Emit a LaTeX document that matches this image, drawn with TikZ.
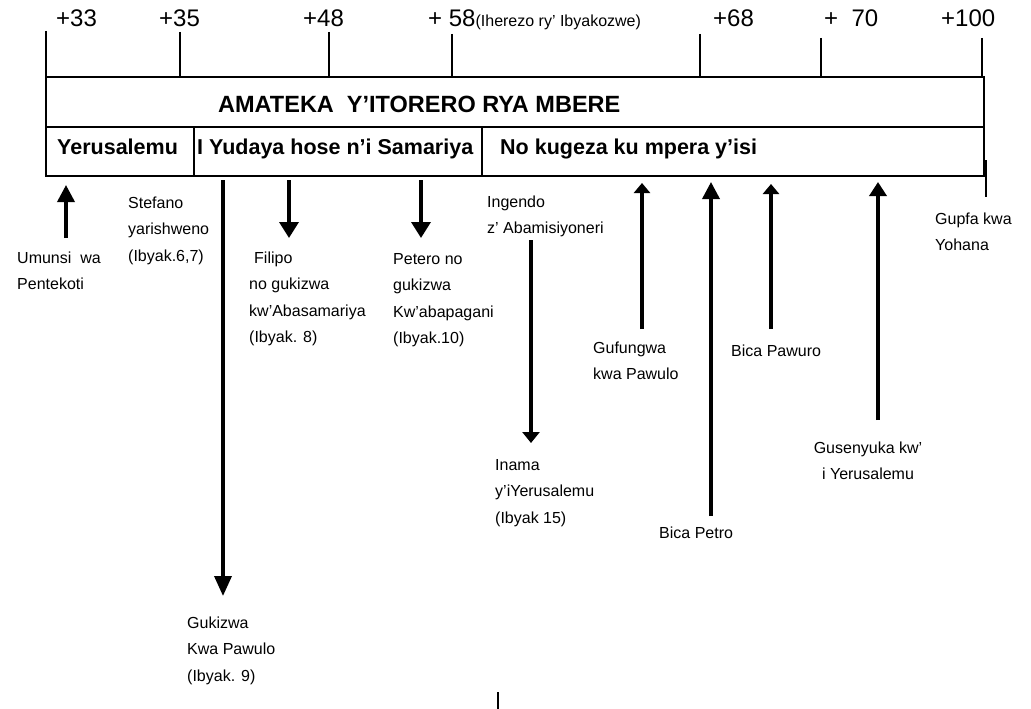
\documentclass[tikz,border=0pt]{standalone}
\usepackage{fontspec}
\setmainfont{Liberation Sans}
\usetikzlibrary{arrows.meta}
\begin{document}
\begin{tikzpicture}[x=1pt,y=-1pt,
  frame/.style={line width=1.8pt},
  tick/.style={line width=1.8pt},
  toplbl/.style={anchor=base west,inner sep=0pt,font=\fontsize{24}{28}\selectfont},
  ttl/.style={anchor=base west,inner sep=0pt,font=\bfseries\fontsize{23.5}{28}\selectfont},
  rowlbl/.style={anchor=base west,inner sep=0pt,font=\bfseries\fontsize{21.5}{26}\selectfont},
  txt/.style={anchor=base west,inner sep=0pt,font=\fontsize{16}{26.5}\selectfont},
  txtc/.style={anchor=base,inner sep=0pt,font=\fontsize{16}{26.5}\selectfont},
  bigup/.style={line width=3.5pt,-{Triangle[length=17pt,width=17pt]}},
  smallup/.style={line width=3.5pt,-{Triangle[length=10pt,width=16pt]}},
  down/.style={line width=3.5pt,-{Triangle[length=16pt,width=19pt]}},
  longdown/.style={line width=3.5pt,-{Triangle[length=20pt,width=17pt]}},
  shortdown/.style={line width=3.5pt,-{Triangle[length=11pt,width=17pt]}}]
\useasboundingbox (0,0) rectangle (1031,709);

% top labels
\node[toplbl] (t33) at (56,26.5) {+33};
\node[toplbl] (t35) at (159,26.5) {+35};
\node[toplbl] (t48) at (303,26.5) {+48};
\node[toplbl] (t58) at (428,26.5) {+ 58{\fontsize{16}{20}\selectfont(Iherezo ry’ Ibyakozwe)}};
\node[toplbl] (t68) at (713,26.5) {+68};
\node[toplbl] (t70) at (824,26.5) {+\ \ 70};
\node[toplbl] (t100) at (941,26.5) {+100};

% ticks
\draw[tick] (46,31) -- (46,77);
\draw[tick] (180,32) -- (180,77);
\draw[tick] (329,32) -- (329,77);
\draw[tick] (452,34) -- (452,77);
\draw[tick] (700,34) -- (700,77);
\draw[tick] (821,38) -- (821,77);
\draw[tick] (982,38) -- (982,77);

% frame
\draw[frame] (46,77) rectangle (984,176);
\draw[frame] (46,127) -- (984,127);
\draw[frame] (194,127) -- (194,176);
\draw[frame] (482,127) -- (482,176);
\draw[frame] (986,160) -- (986,197);

\node[ttl] (title) at (218,112) {AMATEKA\ \ Y’ITORERO RYA MBERE};
\node[rowlbl] (r1) at (57,154) {Yerusalemu};
\node[rowlbl] (r2) at (197,154) {I Yudaya hose n’i Samariya};
\node[rowlbl] (r3) at (500,154) {No kugeza ku mpera y’isi};

% labels
\node[txt] (umunsi) at (17,263) {\begin{tabular}[t]{@{}l@{}}Umunsi\ \ wa\\Pentekoti\end{tabular}};
\node[txt] (stefano) at (128,208) {\begin{tabular}[t]{@{}l@{}}Stefano\\yarishweno\\(Ibyak.6,7)\end{tabular}};
\node[txt] (filipo) at (249,263) {\begin{tabular}[t]{@{}l@{}}\hspace*{5pt}Filipo\\no gukizwa\\kw’Abasamariya\\(Ibyak. 8)\end{tabular}};
\node[txt] (petero) at (393,264) {\begin{tabular}[t]{@{}l@{}}Petero no\\gukizwa\\Kw’abapagani\\(Ibyak.10)\end{tabular}};
\node[txt] (ingendo) at (487,207) {\begin{tabular}[t]{@{}l@{}}Ingendo\\z’ Abamisiyoneri\end{tabular}};
\node[txt] (inama) at (495,470) {\begin{tabular}[t]{@{}l@{}}Inama\\y’iYerusalemu\\(Ibyak 15)\end{tabular}};
\node[txt] (gukizwa) at (187,628) {\begin{tabular}[t]{@{}l@{}}Gukizwa\\Kwa Pawulo\\(Ibyak. 9)\end{tabular}};
\node[txt] (gufungwa) at (593,353) {\begin{tabular}[t]{@{}l@{}}Gufungwa\\kwa Pawulo\end{tabular}};
\node[txt] (pawuro) at (731,356) {Bica Pawuro};
\node[txt] (petro) at (659,538) {Bica Petro};
\node[txtc] (gusenyuka) at (868,453) {\begin{tabular}[t]{@{}c@{}}Gusenyuka kw’\\i Yerusalemu\end{tabular}};
\node[txt] (gupfa) at (935,224) {\begin{tabular}[t]{@{}l@{}}Gupfa kwa\\Yohana\end{tabular}};

% arrow end points
\coordinate (a1s) at (66,238);  \coordinate (a1e) at (66,185);
\coordinate (a2s) at (223,180); \coordinate (a2e) at (223,596);
\coordinate (a3s) at (289,180); \coordinate (a3e) at (289,238);
\coordinate (a4s) at (421,180); \coordinate (a4e) at (421,238);
\coordinate (a5s) at (531,240); \coordinate (a5e) at (531,443);
\coordinate (a6s) at (642,329); \coordinate (a6e) at (642,183);
\coordinate (a7s) at (711,516); \coordinate (a7e) at (711,182);
\coordinate (a8s) at (771,329); \coordinate (a8e) at (771,184);
\coordinate (a9s) at (878,420); \coordinate (a9e) at (878,182);
\coordinate (b1s) at (498,692); \coordinate (b1e) at (498,709);

\draw[bigup] (a1s) -- (a1e);
\draw[longdown] (a2s) -- (a2e);
\draw[down] (a3s) -- (a3e);
\draw[down] (a4s) -- (a4e);
\draw[shortdown] (a5s) -- (a5e);
\draw[smallup] (a6s) -- (a6e);
\draw[bigup] (a7s) -- (a7e);
\draw[smallup] (a8s) -- (a8e);
\draw[line width=3.5pt,-{Triangle[length=14pt,width=17pt]}] (a9s) -- (a9e);
\draw[tick] (b1s) -- (b1e);
\end{tikzpicture}
\end{document}
